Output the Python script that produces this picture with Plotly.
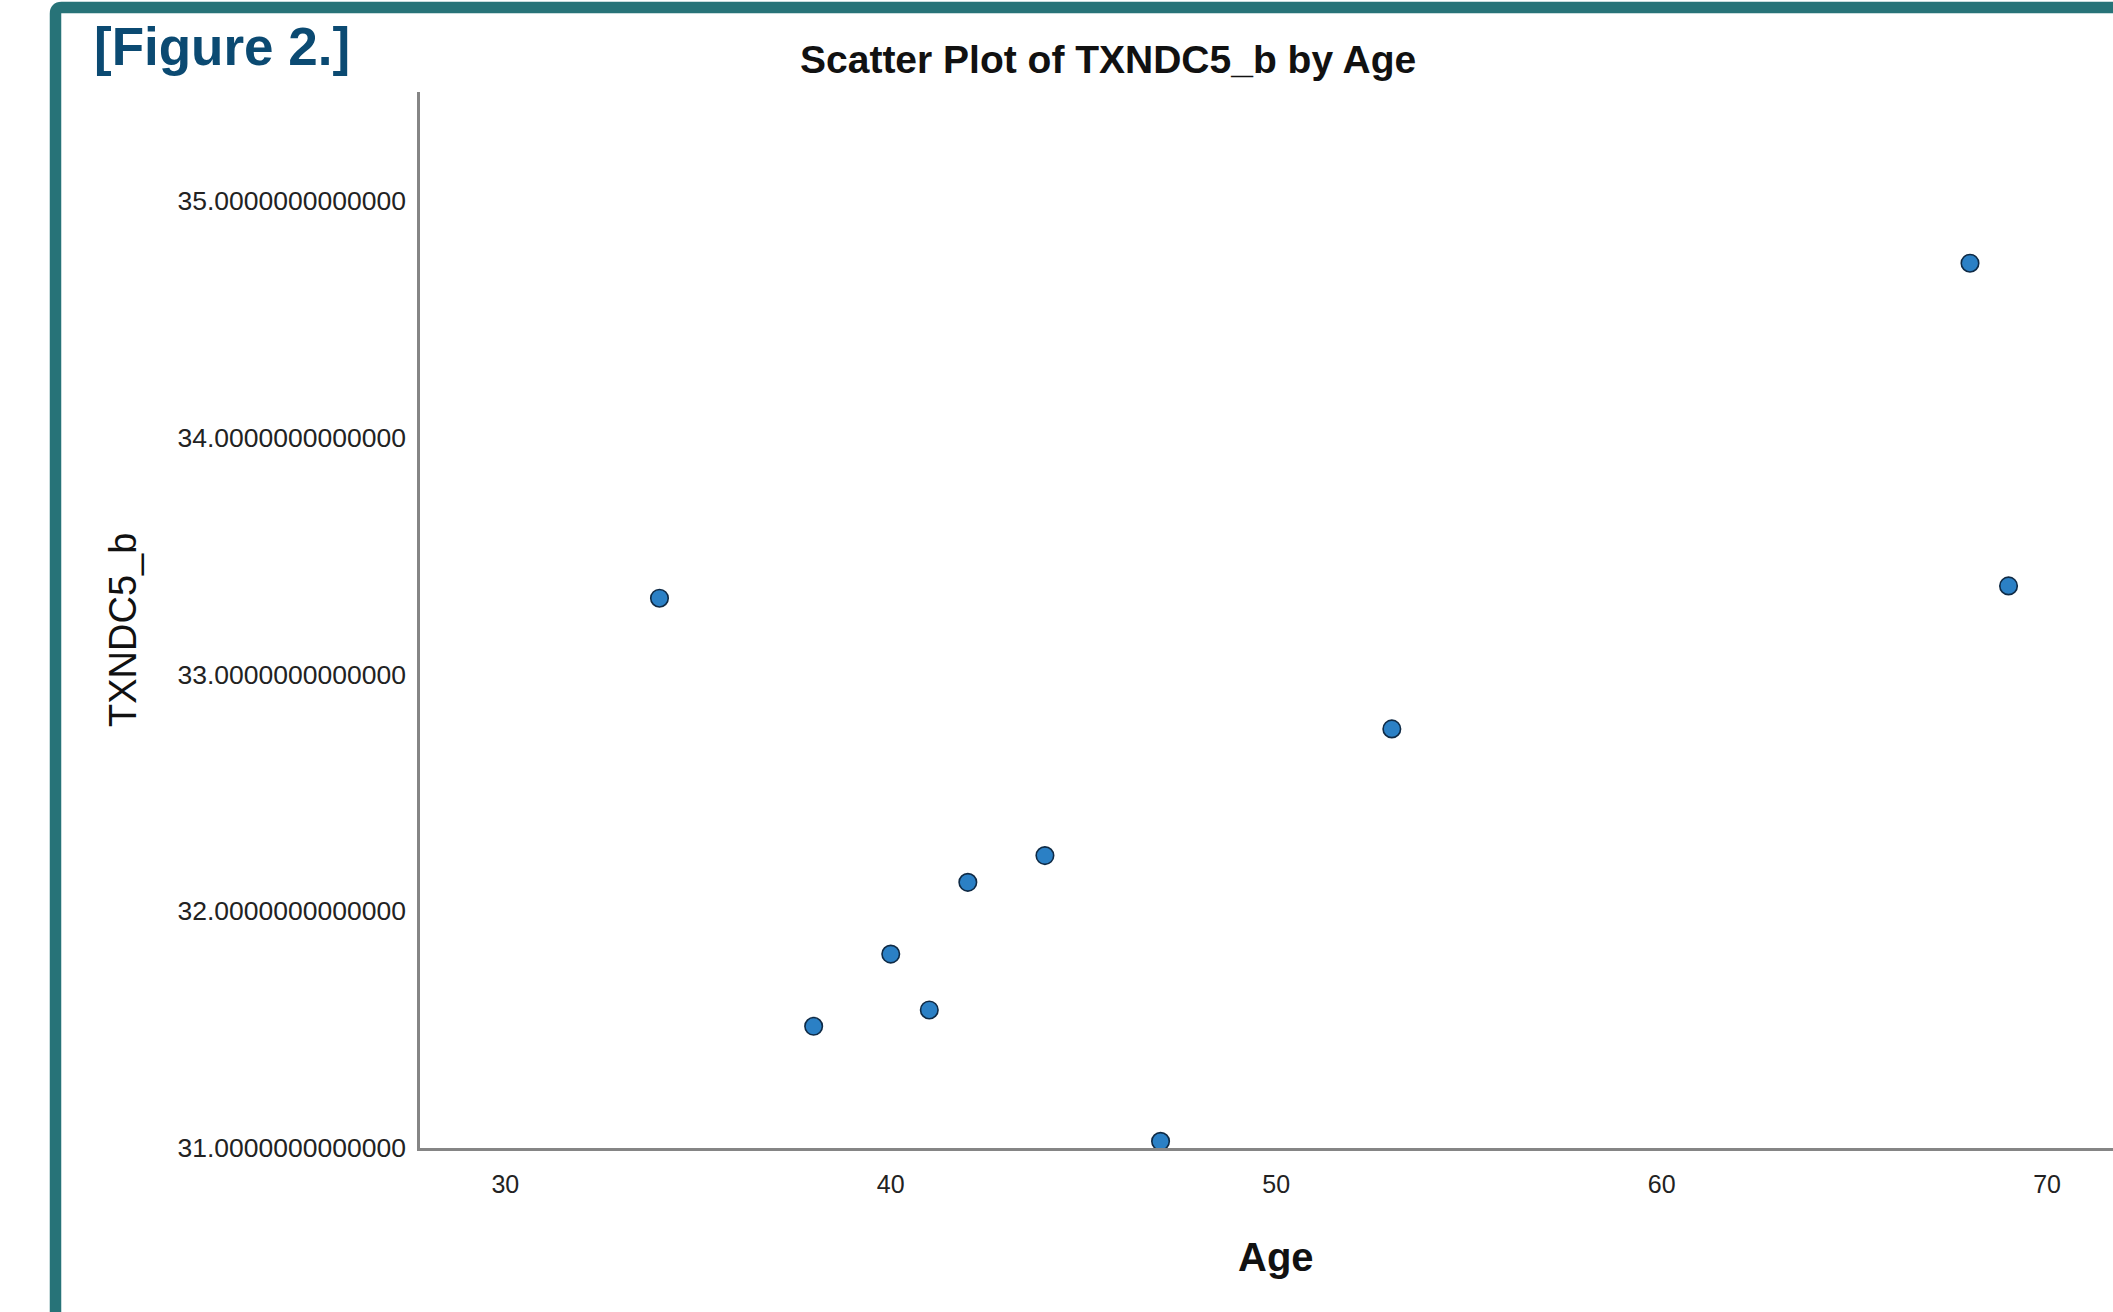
import plotly.graph_objects as go

# ---- data ----
age = [34, 38, 40, 41, 42, 44, 47, 53, 68, 69]
txndc5_b = [33.321, 31.513, 31.818, 31.582, 32.121, 32.234, 31.027, 32.769, 34.736, 33.373]

x_ticks = [30, 40, 50, 60, 70]
x_tick_labels = ["30", "40", "50", "60", "70"]
y_ticks = [31, 32, 33, 34, 35]
y_tick_labels = ["31.0000000000000", "32.0000000000000", "33.0000000000000",
                 "34.0000000000000", "35.0000000000000"]

title_text = "Scatter Plot of TXNDC5_b by Age"
fig_label = "[Figure 2.]"
x_title = "Age"
y_title = "TXNDC5_b"

# ---- layout geometry (pixels) ----
OFF = 0  # body margin removed via post_script
W, H = 2113, 1312
L, R, T, B = 420, 0, 92, 164
PW, PH = W - L - R, H - T - B

def px(x):  # x in screen pixels -> paper fraction
    return (x - OFF - L) / PW

def py(y):  # y in screen pixels -> paper fraction
    return (H - B - (y - OFF)) / PH

FONT = "Liberation Sans, Arial, Helvetica, sans-serif"
TEAL = "#277378"

fig = go.Figure()
fig.add_trace(go.Scatter(
    x=age, y=txndc5_b, mode="markers",
    marker=dict(size=17.5, color="#2b80c5", line=dict(width=1.6, color="#0f2a45")),
    showlegend=False,
))

fig.update_layout(
    width=W, height=H,
    margin=dict(l=L, r=R, t=T, b=B, pad=0),
    paper_bgcolor="white", plot_bgcolor="white",
    font=dict(family=FONT, color="#222222"),
    xaxis=dict(
        range=[27.787, 71.71], tickvals=x_ticks, ticktext=x_tick_labels,
        showgrid=False, zeroline=False, showline=True, linecolor="#858585", linewidth=2.5,
        ticks="", tickfont=dict(size=25, color="#222222", family=FONT),
        ticklabelstandoff=12,
    ),
    yaxis=dict(
        range=[30.999, 35.459], tickvals=y_ticks, ticktext=y_tick_labels,
        showgrid=False, zeroline=False, showline=True, linecolor="#858585", linewidth=2.5,
        ticks="", tickfont=dict(size=26.5, color="#222222", family=FONT),
        ticklabelstandoff=6,
    ),
)

# frame (teal rounded border, extending past right/bottom edges)
x0, y0, r = 55.5, 7.5, 6
path = (f"M {px(x0)},{py(H + 40)} L {px(x0)},{py(y0 + r)} "
        f"Q {px(x0)},{py(y0)} {px(x0 + r)},{py(y0)} L {px(W + 40)},{py(y0)}")
fig.add_shape(type="path", xref="paper", yref="paper", path=path,
              line=dict(color=TEAL, width=11.5), layer="above")

# texts
fig.add_annotation(xref="paper", yref="paper", x=px(92), y=py(47), xanchor="left", yanchor="middle",
                   text=f"<b>{fig_label}</b>", showarrow=False,
                   font=dict(size=53, color="#0b4a72", family=FONT))
fig.add_annotation(xref="paper", yref="paper", x=px(1108), y=py(59), xanchor="center", yanchor="middle",
                   text=f"<b>{title_text}</b>", showarrow=False,
                   font=dict(size=39, color="#111111", family=FONT))
fig.add_annotation(xref="x", yref="paper", x=50, y=py(1257), xanchor="center", yanchor="middle",
                   text=f"<b>{x_title}</b>", showarrow=False,
                   font=dict(size=40, color="#111111", family=FONT))
fig.add_annotation(xref="paper", yref="paper", x=px(123), y=py(630), xanchor="center", yanchor="middle",
                   text=y_title, textangle=-90, showarrow=False,
                   font=dict(size=38, color="#111111", family=FONT))

fig.write_html("out.html",
               config={"displayModeBar": False},
               post_script="document.body.style.margin='0';document.body.style.overflow='hidden';")
